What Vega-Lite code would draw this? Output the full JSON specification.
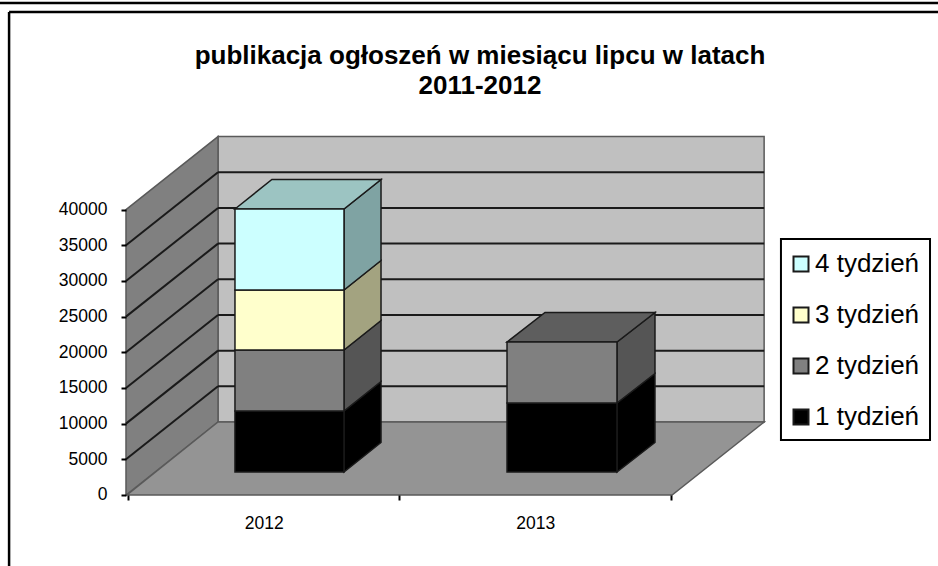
{
"$schema":"https://vega.github.io/schema/vega-lite/v6.json",
"width":938,"height":566,"padding":0,"autosize":"none","background":"white",
"title":{"text":["publikacja ogłoszeń w miesiącu lipcu w latach","2011-2012"],"font":"Liberation Sans","fontSize":26,"fontWeight":"bold","color":"black","anchor":"middle","dx":11,"offset":-99,"lineHeight":30},
"config":{"view":{"stroke":null}},
"layer":[
{"data":{"values":[
{"face":"tyl","part":"ściana tylna","x":0.3315,"y":50231,"y2":10231},
{"face":"tyl","part":"ściana tylna","x":2.343,"y":50231,"y2":10231},
{"face":"bok","part":"ściana boczna","x":-0.0074,"y":40000,"y2":0},
{"face":"bok","part":"ściana boczna","x":0.3315,"y":50231,"y2":10231},
{"face":"dno","part":"podłoga","x":-0.0037,"y":0,"y2":0},
{"face":"dno","part":"podłoga","x":0.3315,"y":10231,"y2":0},
{"face":"dno","part":"podłoga","x":2.004,"y":10231,"y2":0},
{"face":"dno","part":"podłoga","x":2.343,"y":10231,"y2":10231}
]},
"mark":{"type":"area","stroke":"#5a5a5a","strokeWidth":1.5,"opacity":1},
"encoding":{
"x":{"field":"x","type":"quantitative","scale":{"domain":[-0.47145,2.98343],"nice":false,"zero":false},
"axis":{"title":null,"offset":-71,"orient":"bottom","grid":false,"domain":false,"values":[0,0.5,1,1.5,2],"labelExpr":"datum.value==0.5?'2012':datum.value==1.5?'2013':''","tickOpacity":{"condition":{"test":"datum.value==0.5||datum.value==1.5","value":0},"value":1},"tickColor":"black","tickWidth":2,"tickSize":5,"labelFont":"Liberation Sans","labelFontSize":17.5,"labelColor":"black","labelPadding":14,"labelAngle":0,"zindex":1,"labelFlush":false,"labelOverlap":false}},
"y":{"field":"y","type":"quantitative","scale":{"domain":[-9951,69374],"nice":false,"zero":false},
"axis":{"title":null,"offset":-126,"orient":"left","grid":false,"domain":false,"values":[0,5000,10000,15000,20000,25000,30000,35000,40000],"format":"d","tickColor":"black","tickWidth":2,"tickSize":5,"labelFont":"Liberation Sans","labelFontSize":17.5,"labelColor":"black","labelPadding":14,"zindex":1}},
"y2":{"field":"y2"},
"detail":{"field":"face"},
"fill":{"field":"part","type":"nominal","scale":{"domain":["4 tydzień","3 tydzień","2 tydzień","1 tydzień","4 bok","3 bok","2 bok","1 bok","4 góra","2 góra","ściana tylna","ściana boczna","podłoga"],"range":["#CCFFFF","#FFFFCC","#808080","#000000","#7FA3A3","#A3A380","#555555","#000000","#9CC4C2","#5E5E5E","#C0C0C0","#808080","#949494"]},
"legend":{"title":null,"orient":"none","legendX":788,"legendY":251,"values":["4 tydzień","3 tydzień","2 tydzień","1 tydzień"],"symbolType":"square","symbolSize":225,"symbolStrokeColor":"black","symbolStrokeWidth":2,"symbolOpacity":1,"labelFont":"Liberation Sans","labelFontSize":26,"labelColor":"black","labelOffset":1,"rowPadding":25,"padding":0,"labelLimit":200}}
}},
{"data":{"values":[
{"x":-0.4715,"x2":2.9834,"y":68953,"y2":68953},
{"x":-0.438,"x2":2.9834,"y":67692,"y2":67692},
{"x":-0.438,"x2":-0.438,"y":67692,"y2":-9951}
]},
"mark":{"type":"rule","color":"black","strokeWidth":2.5},
"encoding":{"x":{"field":"x","type":"quantitative"},"x2":{"field":"x2"},"y":{"field":"y","type":"quantitative"},"y2":{"field":"y2"}}},
{"data":{"values":[
{"x":2.405,"x2":2.954,"y":35878,"y2":7708}
]},
"mark":{"type":"rect","fill":null,"stroke":"black","strokeWidth":2},
"encoding":{"x":{"field":"x","type":"quantitative"},"x2":{"field":"x2"},"y":{"field":"y","type":"quantitative"},"y2":{"field":"y2"}}},
{"data":{"values":[
{"x":-0.0074,"x2":0.3315,"y":5000,"y2":15231},
{"x":-0.0074,"x2":0.3315,"y":10000,"y2":20231},
{"x":-0.0074,"x2":0.3315,"y":15000,"y2":25231},
{"x":-0.0074,"x2":0.3315,"y":20000,"y2":30231},
{"x":-0.0074,"x2":0.3315,"y":25000,"y2":35231},
{"x":-0.0074,"x2":0.3315,"y":30000,"y2":40231},
{"x":-0.0074,"x2":0.3315,"y":35000,"y2":45231},
{"x":0.3315,"x2":2.343,"y":15231,"y2":15231},
{"x":0.3315,"x2":2.343,"y":20231,"y2":20231},
{"x":0.3315,"x2":2.343,"y":25231,"y2":25231},
{"x":0.3315,"x2":2.343,"y":30231,"y2":30231},
{"x":0.3315,"x2":2.343,"y":35231,"y2":35231},
{"x":0.3315,"x2":2.343,"y":40231,"y2":40231},
{"x":0.3315,"x2":2.343,"y":45231,"y2":45231}
]},
"mark":{"type":"rule","color":"#1a1a1a","strokeWidth":2},
"encoding":{"x":{"field":"x","type":"quantitative"},"x2":{"field":"x2"},"y":{"field":"y","type":"quantitative"},"y2":{"field":"y2"}}},
{"data":{"values":[
{"face":"s11","part":"1 bok","x":0.7956,"y":11773,"y2":3223},
{"face":"s11","part":"1 bok","x":0.9319,"y":15907,"y2":7357},
{"face":"s12","part":"2 bok","x":0.7956,"y":20322,"y2":11773},
{"face":"s12","part":"2 bok","x":0.9319,"y":24456,"y2":15907},
{"face":"s13","part":"3 bok","x":0.7956,"y":28731,"y2":20322},
{"face":"s13","part":"3 bok","x":0.9319,"y":32865,"y2":24456},
{"face":"s14","part":"4 bok","x":0.7956,"y":40083,"y2":28731},
{"face":"s14","part":"4 bok","x":0.9319,"y":44217,"y2":32865},
{"face":"t1","part":"4 góra","x":0.394,"y":40083,"y2":40083},
{"face":"t1","part":"4 góra","x":0.53,"y":44217,"y2":40083},
{"face":"t1","part":"4 góra","x":0.7956,"y":44217,"y2":40083},
{"face":"t1","part":"4 góra","x":0.9319,"y":44217,"y2":44217},
{"face":"s21","part":"1 bok","x":1.801,"y":12894,"y2":3223},
{"face":"s21","part":"1 bok","x":1.941,"y":17028,"y2":7357},
{"face":"s22","part":"2 bok","x":1.801,"y":21443,"y2":12894},
{"face":"s22","part":"2 bok","x":1.941,"y":25577,"y2":17028},
{"face":"t2","part":"2 góra","x":1.396,"y":21443,"y2":21443},
{"face":"t2","part":"2 góra","x":1.536,"y":25577,"y2":21443},
{"face":"t2","part":"2 góra","x":1.801,"y":25577,"y2":21443},
{"face":"t2","part":"2 góra","x":1.941,"y":25577,"y2":25577}
]},
"mark":{"type":"area","stroke":"#1a1a1a","strokeWidth":1.5,"opacity":1},
"encoding":{"x":{"field":"x","type":"quantitative"},"y":{"field":"y","type":"quantitative"},"y2":{"field":"y2"},"detail":{"field":"face"},"fill":{"field":"part","type":"nominal"}}},
{"data":{"values":[
{"rok":"2012","part":"1 tydzień","x":0.394,"x2":0.7956,"y":11773,"y2":3223},
{"rok":"2012","part":"2 tydzień","x":0.394,"x2":0.7956,"y":20322,"y2":11773},
{"rok":"2012","part":"3 tydzień","x":0.394,"x2":0.7956,"y":28731,"y2":20322},
{"rok":"2012","part":"4 tydzień","x":0.394,"x2":0.7956,"y":40083,"y2":28731},
{"rok":"2013","part":"1 tydzień","x":1.396,"x2":1.801,"y":12894,"y2":3223},
{"rok":"2013","part":"2 tydzień","x":1.396,"x2":1.801,"y":21443,"y2":12894}
]},
"mark":{"type":"rect","stroke":"#1a1a1a","strokeWidth":1.5,"opacity":1},
"encoding":{"x":{"field":"x","type":"quantitative"},"x2":{"field":"x2"},"y":{"field":"y","type":"quantitative"},"y2":{"field":"y2"},"fill":{"field":"part","type":"nominal"}}}
]
}
